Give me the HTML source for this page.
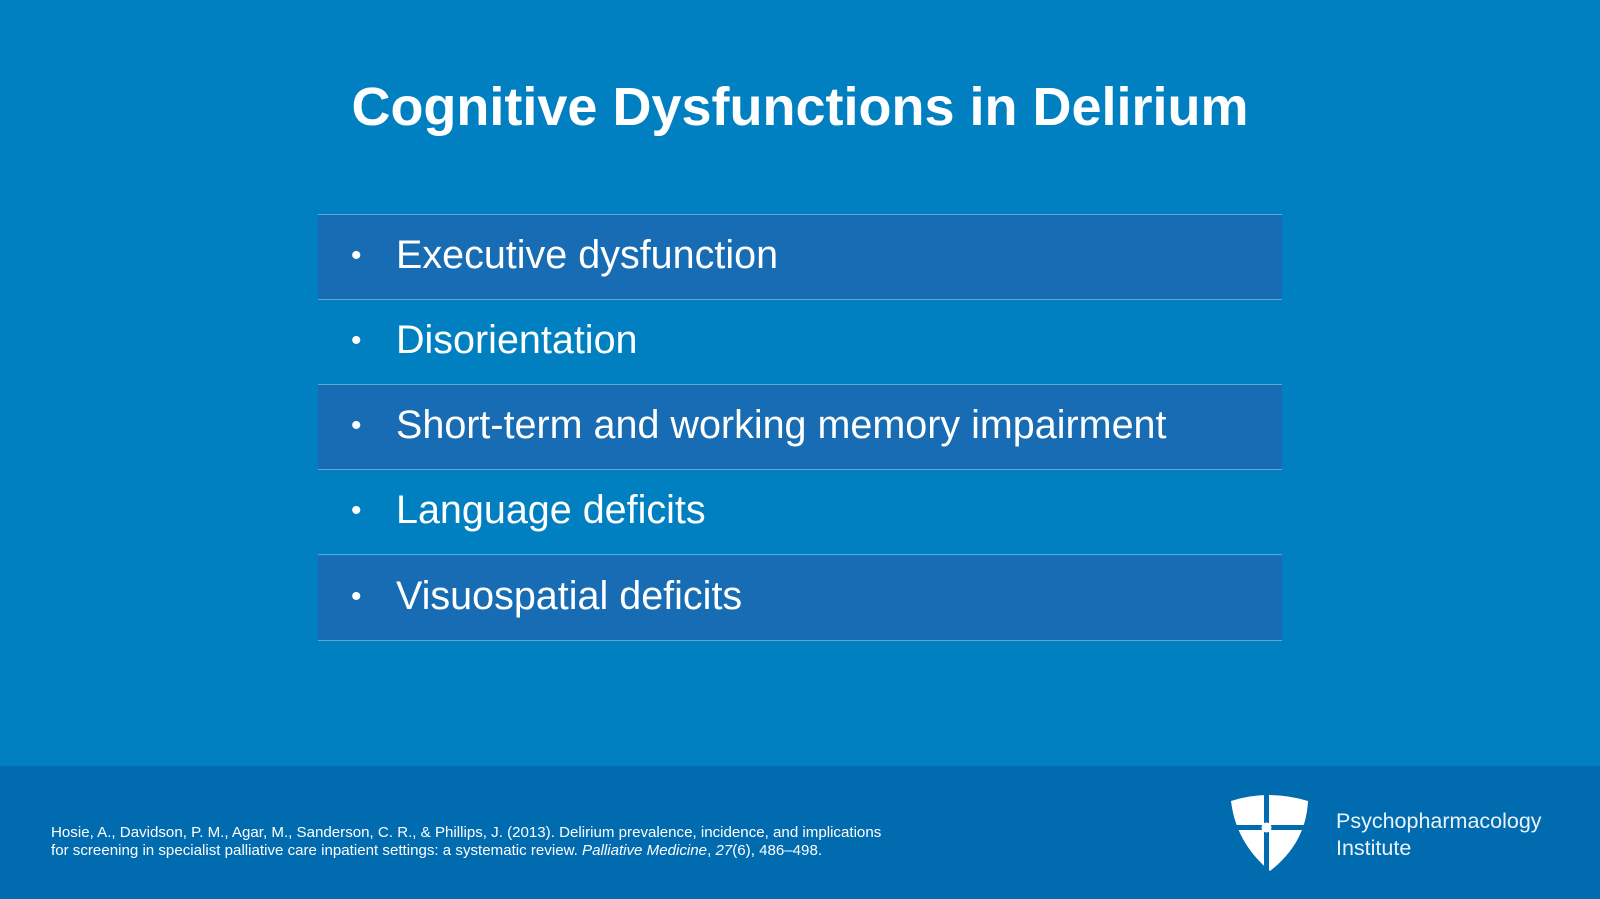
<!DOCTYPE html>
<html><head><style>
body{margin:0;width:1600px;height:899px;background:#0180c1;position:relative;overflow:hidden;font-family:"Liberation Sans",sans-serif;color:#fff}
h1{position:absolute;top:76px;left:0;width:1600px;text-align:center;margin:0;font-size:54px;font-weight:bold;letter-spacing:0px}
.row{position:absolute;left:318px;width:964px;height:85px;border-bottom:1px solid #5ea6d8;box-sizing:border-box}
.row.d{background:#176cb3}
.row span.b{position:absolute;left:33px;top:24px;font-size:30px}
.row span.t{position:absolute;left:78px;top:18px;font-size:39.5px}
#foot{position:absolute;top:766px;left:0;width:1600px;height:133px;background:#016bb0}
.ref{position:absolute;left:51px;top:824px;font-size:15.1px;line-height:18px}
.logo{position:absolute;left:1336px;top:808px;font-size:21.5px;line-height:27px;color:#eaf3fa}
</style></head><body>
<h1>Cognitive Dysfunctions in Delirium</h1>
<div style="position:absolute;left:318px;top:214px;width:964px;height:1px;background:#5ea6d8"></div>
<div class="row d" style="top:215px"><span class="b">•</span><span class="t">Executive dysfunction</span></div>
<div class="row" style="top:300px"><span class="b">•</span><span class="t">Disorientation</span></div>
<div class="row d" style="top:385px"><span class="b">•</span><span class="t">Short-term and working memory impairment</span></div>
<div class="row" style="top:470px"><span class="b">•</span><span class="t">Language deficits</span></div>
<div class="row d" style="top:556px"><span class="b">•</span><span class="t">Visuospatial deficits</span></div>
<div id="foot"></div>
<div class="ref">Hosie, A., Davidson, P. M., Agar, M., Sanderson, C. R., &amp; Phillips, J. (2013). Delirium prevalence, incidence, and implications<br>for screening in specialist palliative care inpatient settings: a systematic review. <i>Palliative Medicine</i>, <i>27</i>(6), 486–498.</div>
<svg style="position:absolute;left:1228px;top:793px" width="84" height="80" viewBox="0 0 84 80">
<path d="M3,8 Q40,-4 80,8 Q78,50 42,78 Q8,50 3,8Z" fill="#fff"/>
<rect x="36" y="0" width="5" height="80" fill="#016bb0"/>
<rect x="0" y="32" width="84" height="5" fill="#016bb0"/>
<circle cx="38.5" cy="34.5" r="5" fill="#fff"/>
</svg>
<div class="logo">Psychopharmacology<br>Institute</div>
</body></html>
